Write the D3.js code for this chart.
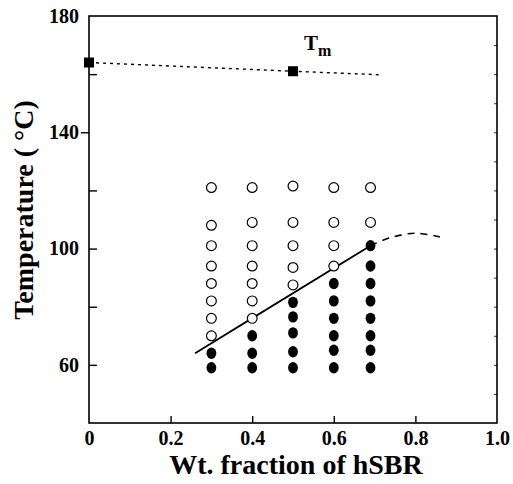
<!DOCTYPE html>
<html>
<head>
<meta charset="utf-8">
<script src="https://cdn.jsdelivr.net/npm/d3@7"></script>
<style>
  body { margin: 0; background: #fff; }
  svg text { font-family: "Liberation Serif", "Times New Roman", serif; font-weight: bold; }
</style>
</head>
<body>
<script>
// plot size and margins
var W = 513, H = 484;
var left = 89, top_ = 16, right = 16, bottom = 61;
var width = W - left - right, height = H - top_ - bottom;

// x ticks and y ticks
var xTicks = [0, 0.2, 0.4, 0.6, 0.8, 1.0];
var xTickLabels = ['0', '0.2', '0.4', '0.6', '0.8', '1.0'];
var yTicks = [60, 100, 140, 180];
var yMinor = [80, 120, 160];

// melting temperature line (Tm)
var tmX = [0, 0.5, 0.71];
var tmT = [164, 161, 159.8];
var tmSquareX = [0, 0.5];
var tmSquareT = [164, 161];

// open circles (fraction, temperature)
var openX = [0.3, 0.3, 0.3, 0.3, 0.3, 0.3, 0.3, 0.3,
             0.4, 0.4, 0.4, 0.4, 0.4, 0.4, 0.4,
             0.5, 0.5, 0.5, 0.5, 0.5,
             0.6, 0.6, 0.6, 0.6,
             0.69, 0.69];
var openT = [121, 108, 101, 94, 88, 82, 76, 70,
             121, 109, 101, 94, 88, 82, 76,
             121.5, 109, 101, 93.5, 87.5,
             121, 109, 101, 94,
             121, 109];

// filled circles
var filledX = [0.3, 0.3,
               0.4, 0.4, 0.4,
               0.5, 0.5, 0.5, 0.5, 0.5,
               0.6, 0.6, 0.6, 0.6, 0.6, 0.6,
               0.69, 0.69, 0.69, 0.69, 0.69, 0.69, 0.69, 0.69];
var filledT = [64, 59,
               70, 64, 59,
               81.5, 76.5, 71, 64.5, 59,
               88, 82, 76, 70, 65, 59,
               101, 94, 88, 82, 76, 70, 65, 59];

// solid boundary and dashed extension
var lineX = [0.26, 0.69];
var lineT = [64, 101];
var dashX = [0.69, 0.74, 0.8, 0.86];
var dashT = [101, 103.8, 105.3, 104];

var svg = d3.select('body').append('svg')
	.attr('width', W).attr('height', H);

var x = d3.scaleLinear().domain([0, 1]).range([left, left + width]);
var y = d3.scaleLinear().domain([40, 180]).range([top_ + height, top_]);

// frame
svg.append('rect')
	.attr('x', x(0)).attr('y', y(180))
	.attr('width', x(1) - x(0)).attr('height', y(40) - y(180))
	.attr('fill', 'none').attr('stroke', '#000').attr('stroke-width', 1.6);

// x axis: inward ticks, labels below
svg.append('g').attr('transform', 'translate(0,' + y(40) + ')')
	.call(d3.axisTop(x).tickValues([0.2, 0.4, 0.6, 0.8]).tickSize(7).tickFormat(''))
	.call(g => g.select('.domain').remove())
	.selectAll('line').attr('stroke-width', 1.4);

svg.append('g').attr('transform', 'translate(0,' + y(40) + ')')
	.call(d3.axisBottom(x).tickValues(xTicks).tickSize(0).tickPadding(8)
		.tickFormat((d, i) => xTickLabels[i]))
	.call(g => g.select('.domain').remove())
	.selectAll('text').attr('font-size', 20).attr('fill', '#000')
	.attr('font-family', '"Liberation Serif", serif').attr('font-weight', 'bold');

// y axis labels
svg.append('g').attr('transform', 'translate(' + x(0) + ',0)')
	.call(d3.axisLeft(y).tickValues(yTicks).tickSize(0).tickPadding(10))
	.call(g => g.select('.domain').remove())
	.selectAll('text').attr('font-size', 20).attr('fill', '#000')
	.attr('font-family', '"Liberation Serif", serif').attr('font-weight', 'bold');

// y ticks (inward, 140 outward like the scan)
svg.append('g').attr('transform', 'translate(' + x(0) + ',0)')
	.call(d3.axisRight(y).tickValues([60, 80, 100, 120, 160]).tickSize(8).tickFormat(''))
	.call(g => g.select('.domain').remove())
	.selectAll('line').attr('stroke-width', 1.4);
svg.append('g').attr('transform', 'translate(' + x(0) + ',0)')
	.call(d3.axisLeft(y).tickValues([140]).tickSize(8).tickFormat(''))
	.call(g => g.select('.domain').remove())
	.selectAll('line').attr('stroke-width', 1.4);

// small ticks on right side
svg.append('g').attr('transform', 'translate(' + x(1) + ',0)')
	.call(d3.axisLeft(y).tickValues(d3.range(50, 180, 10)).tickSize(3).tickFormat(''))
	.call(g => g.select('.domain').remove())
	.selectAll('line').attr('stroke-width', 0.8);

// axis titles
svg.append('text')
	.attr('x', 296).attr('y', 474)
	.attr('text-anchor', 'middle').attr('font-size', 28)
	.text('Wt. fraction of hSBR');

svg.append('text')
	.attr('transform', 'translate(33,' + 210 + ') rotate(-90)')
	.attr('text-anchor', 'middle').attr('font-size', 28)
	.text('Temperature ( \u00B0C)');

// Tm line
var line = d3.line().x(d => x(d[0])).y(d => y(d[1]));
svg.append('path')
	.attr('d', line(d3.zip(tmX, tmT)))
	.attr('fill', 'none').attr('stroke', '#000').attr('stroke-width', 1.4)
	.attr('stroke-dasharray', '3,4');

svg.selectAll('.tmsq').data(d3.zip(tmSquareX, tmSquareT)).enter()
	.append('rect').attr('class', 'tmsq')
	.attr('x', d => x(d[0]) - 5).attr('y', d => y(d[1]) - 5)
	.attr('width', 10).attr('height', 10).attr('fill', '#000');

var tm = svg.append('text').attr('x', 304).attr('y', 50).attr('font-size', 21);
tm.append('tspan').text('T');
tm.append('tspan').attr('font-size', 16).attr('dy', 6).text('m');

// boundary lines
svg.append('path')
	.attr('d', line(d3.zip(lineX, lineT)))
	.attr('fill', 'none').attr('stroke', '#000').attr('stroke-width', 1.8);

svg.append('path')
	.attr('d', line.curve(d3.curveCardinal)(d3.zip(dashX, dashT)))
	.attr('fill', 'none').attr('stroke', '#000').attr('stroke-width', 1.6)
	.attr('stroke-dasharray', '7,6');

// points
svg.selectAll('.open').data(d3.zip(openX, openT)).enter()
	.append('circle').attr('class', 'open')
	.attr('cx', d => x(d[0])).attr('cy', d => y(d[1])).attr('r', 4.9)
	.attr('fill', '#fff').attr('stroke', '#000').attr('stroke-width', 1.2);

svg.selectAll('.filled').data(d3.zip(filledX, filledT)).enter()
	.append('ellipse').attr('class', 'filled')
	.attr('cx', d => x(d[0])).attr('cy', d => y(d[1])).attr('rx', 4.9).attr('ry', 5.7)
	.attr('fill', '#000');
</script>
</body>
</html>
